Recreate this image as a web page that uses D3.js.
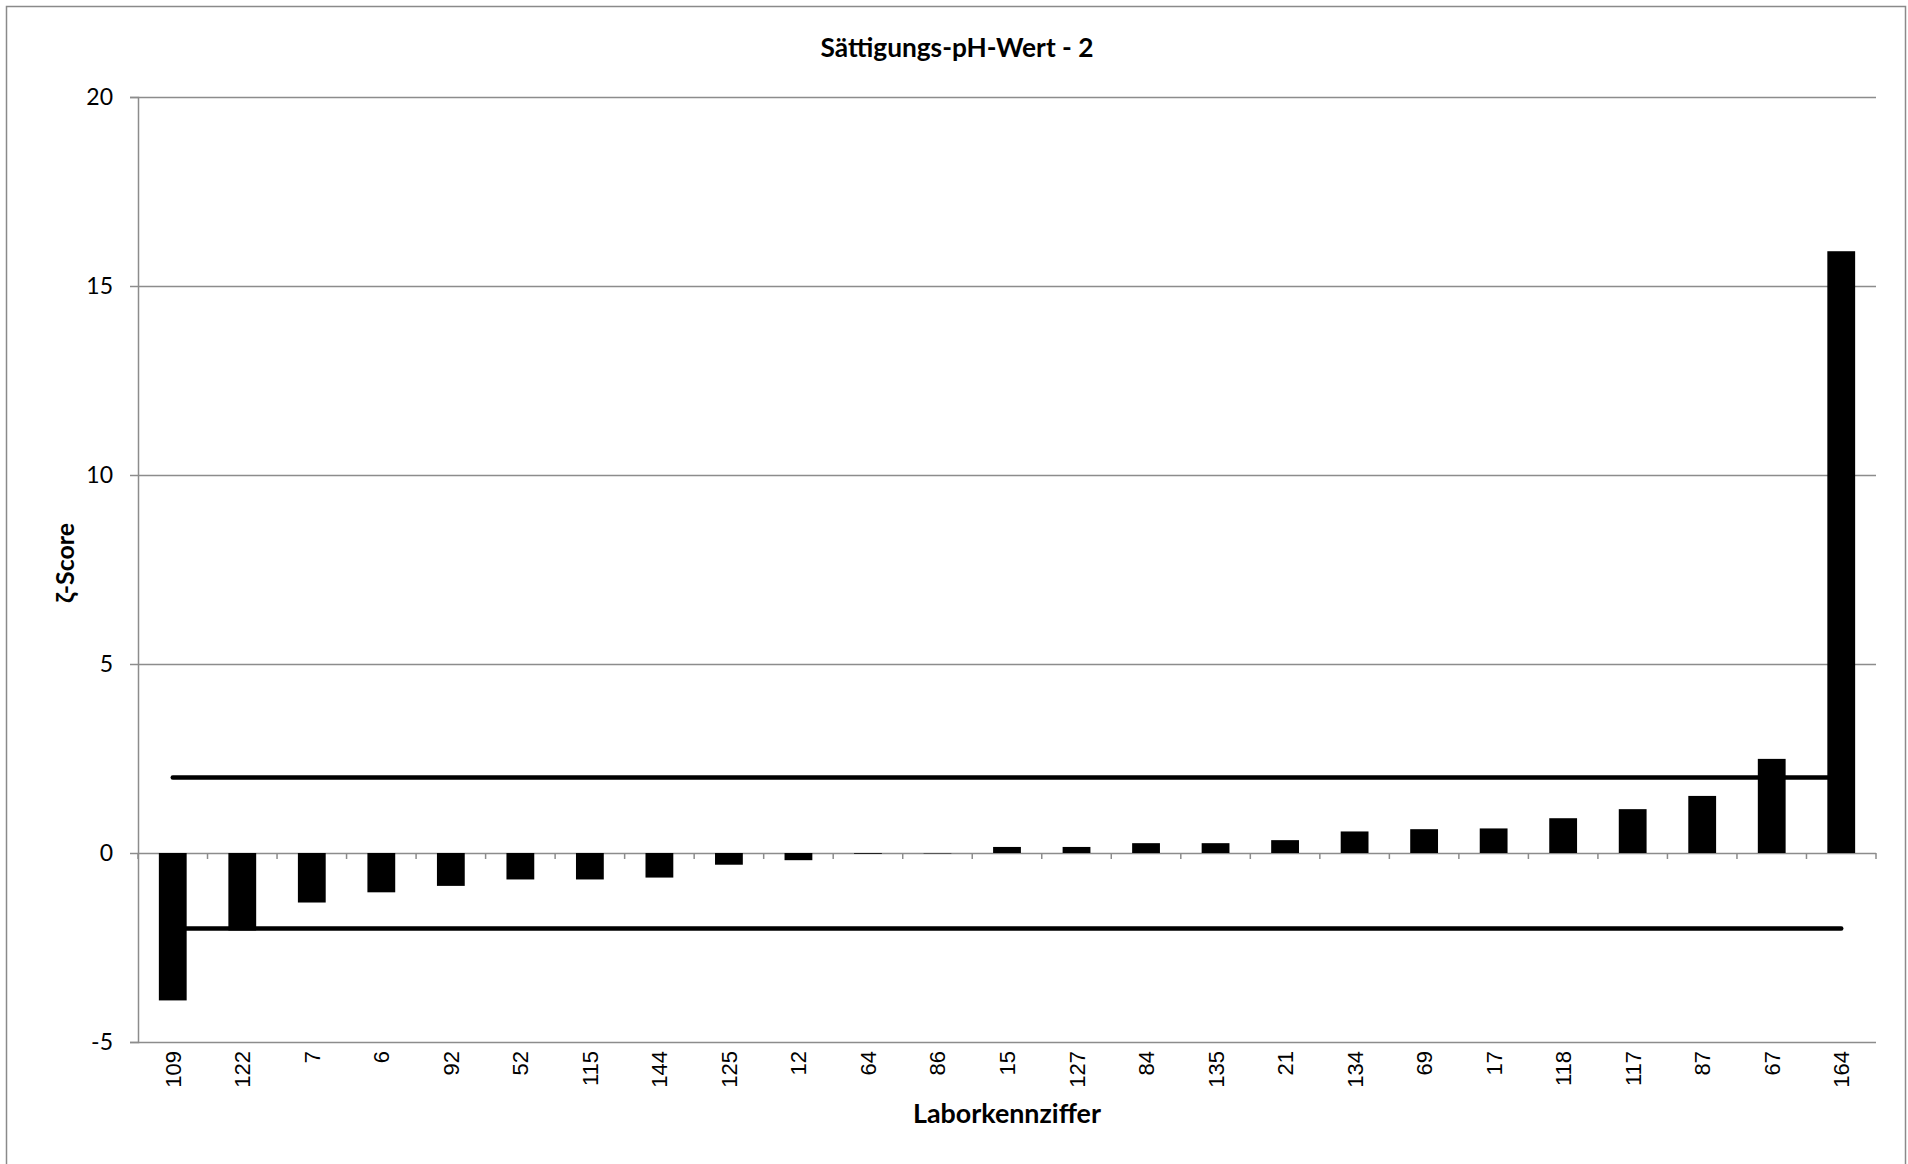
<!DOCTYPE html>
<html>
<head>
<meta charset="utf-8">
<script src="https://cdn.jsdelivr.net/npm/d3@7"></script>
<style>
  body { margin: 0; background: #fff; }
  svg { display: block; }
</style>
</head>
<body>
<div id="chart"></div>
<script>
// Laborkennziffern, sorted by score
var labs = ["109", "122", "7", "6", "92", "52", "115", "144", "125", "12", "64", "86", "15",
  "127", "84", "135", "21", "134", "69", "17", "118", "117", "87", "67", "164"];
// zeta scores
var zeta = [-3.90, -2.05, -1.31, -1.04, -0.87, -0.70, -0.70, -0.65, -0.31, -0.19, -0.02, -0.01, 0.16,
  0.16, 0.26, 0.26, 0.34, 0.57, 0.63, 0.65, 0.92, 1.16, 1.51, 2.49, 15.92];
// limit lines |zeta| = 2
var limits = [2, -2];
var yTicks = [-5, 0, 5, 10, 15, 20];

var W = 1908, H = 1164;
var margin = { top: 97, right: 32, bottom: 122, left: 138 },
  width = W - margin.left - margin.right,
  height = H - margin.top - margin.bottom;

var svg = d3.select("#chart")
  .append("svg")
  .attr("width", W)
  .attr("height", H);

// outer chart border (bottom edge runs off the picture)
svg.append("rect")
  .attr("x", 6.5).attr("y", 6.5)
  .attr("width", 1899).attr("height", 1200)
  .attr("fill", "none")
  .attr("stroke", "#8a8a8a")
  .attr("stroke-width", 1.5);

var g = svg.append("g")
  .attr("transform", "translate(" + margin.left + "," + margin.top + ")");

var x = d3.scaleBand()
  .domain(labs)
  .range([0, width])
  .padding(0);

var y = d3.scaleLinear()
  .domain([-5, 20])
  .range([height, 0]);

var barW = x.bandwidth() * 0.4;

// gridlines
g.selectAll(".grid")
  .data(yTicks)
  .enter()
  .append("line")
  .attr("x1", 0).attr("x2", width)
  .attr("y1", function (d) { return y(d) + 0.5; })
  .attr("y2", function (d) { return y(d) + 0.5; })
  .attr("stroke", "#8c8c8c")
  .attr("stroke-width", 1.5);

// y axis
var yAxis = g.append("g")
  .call(d3.axisLeft(y).tickValues(yTicks).tickSize(8).tickPadding(17)
    .tickFormat(function (d) { return String(d); }));
yAxis.select(".domain").attr("stroke", "#8c8c8c").attr("stroke-width", 1.5);
yAxis.selectAll(".tick line").attr("stroke", "#8c8c8c").attr("stroke-width", 1.5);
yAxis.selectAll(".tick text")
  .attr("font-family", "Lato, 'Open Sans', sans-serif")
  .attr("font-size", 23)
  .attr("fill", "#000");

// category axis at zero, ticks between categories
var bounds = labs.map(function (d) { return x(d); }).concat([width]);
g.selectAll(".xtick")
  .data(bounds)
  .enter()
  .append("line")
  .attr("x1", function (d) { return d; })
  .attr("x2", function (d) { return d; })
  .attr("y1", y(0))
  .attr("y2", y(0) + 6)
  .attr("stroke", "#8c8c8c")
  .attr("stroke-width", 1.5);

// bars
g.selectAll(".bar")
  .data(zeta)
  .enter()
  .append("rect")
  .attr("x", function (d, i) { return x(labs[i]) + (x.bandwidth() - barW) / 2; })
  .attr("y", function (d) { return y(Math.max(0, d)); })
  .attr("width", barW)
  .attr("height", function (d) { return Math.abs(y(d) - y(0)); })
  .attr("fill", "#000");

// limit lines from first to last category centre
var cx = function (d) { return x(d) + x.bandwidth() / 2; };
g.selectAll(".limit")
  .data(limits)
  .enter()
  .append("line")
  .attr("x1", cx(labs[0]))
  .attr("x2", cx(labs[labs.length - 1]))
  .attr("y1", function (d) { return y(d); })
  .attr("y2", function (d) { return y(d); })
  .attr("stroke", "#000")
  .attr("stroke-width", 4.5)
  .attr("stroke-linecap", "round");

// category labels at the bottom, rotated
g.selectAll(".xlab")
  .data(labs)
  .enter()
  .append("text")
  .attr("transform", function (d) {
    return "translate(" + (cx(d) + 8) + "," + (1051 - margin.top) + ")rotate(-90)";
  })
  .attr("text-anchor", "end")
  .attr("font-family", "'Liberation Sans', Arial, sans-serif")
  .attr("font-size", 22)
  .text(function (d) { return d; });

// scale a text to a measured width
function fit(t, target) {
  var w = t.node().getComputedTextLength();
  t.attr("font-size", parseFloat(t.attr("font-size")) * target / w);
}

var title = svg.append("text")
  .attr("x", 957).attr("y", 57)
  .attr("text-anchor", "middle")
  .attr("font-family", "Lato, 'Open Sans', sans-serif")
  .attr("font-weight", "bold")
  .attr("font-size", 26)
  .text("Sättigungs-pH-Wert - 2");
fit(title, 273);

var xTitle = svg.append("text")
  .attr("x", 1007).attr("y", 1123)
  .attr("text-anchor", "middle")
  .attr("font-family", "Lato, 'Open Sans', sans-serif")
  .attr("font-weight", "bold")
  .attr("font-size", 24)
  .text("Laborkennziffer");
fit(xTitle, 188);

var yTitle = svg.append("text")
  .attr("transform", "translate(74,563)rotate(-90)")
  .attr("text-anchor", "middle")
  .attr("font-family", "Lato, 'Open Sans', sans-serif")
  .attr("font-weight", "bold")
  .attr("font-size", 24)
  .text("ζ-Score");
fit(yTitle, 80);
</script>
</body>
</html>
